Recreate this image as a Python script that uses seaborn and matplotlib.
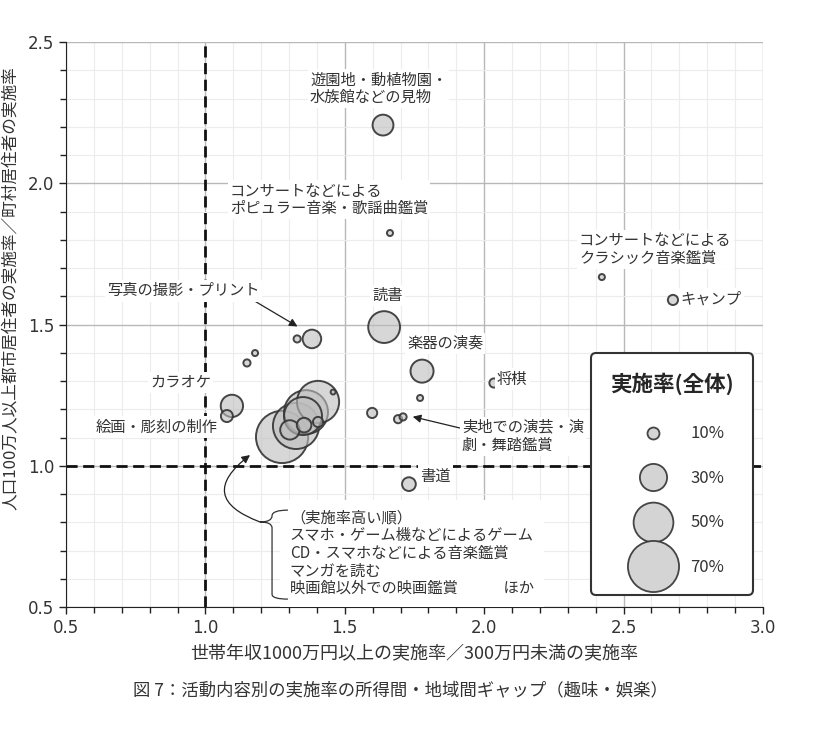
import numpy as np
import pandas as pd
import seaborn as sns
import matplotlib.pyplot as plt
from matplotlib.lines import Line2D
from matplotlib.path import Path
from matplotlib.patches import PathPatch
from matplotlib import font_manager

# データ（所得間ギャップ, 地域間ギャップ, 全体の実施率%）
gap_income = [1.637, 1.662, 2.422, 2.677, 1.641, 1.329, 1.382, 1.777, 2.035,
              1.178, 1.149, 1.095, 1.077, 1.770, 1.598, 1.691, 1.709, 1.730,
              1.275, 1.325, 1.361, 1.404, 1.350, 1.303, 1.354, 1.404, 1.458]
gap_region = [2.206, 1.824, 1.668, 1.587, 1.491, 1.449, 1.449, 1.335, 1.293,
              1.399, 1.364, 1.212, 1.176, 1.240, 1.187, 1.165, 1.173, 0.935,
              1.102, 1.141, 1.190, 1.226, 1.176, 1.127, 1.144, 1.155, 1.261]
rate_total = [21, 4, 4, 8, 37, 5, 18, 24, 7,
              4, 5, 23, 10, 4, 8, 6, 5, 12,
              72, 61, 57, 54, 47, 19, 13, 8, 3]

legend_rates = [10, 30, 50, 70]

df = pd.DataFrame({'x': gap_income, 'y': gap_region, 'rate': rate_total})

# ラベル（テキスト, 位置）
labels = [
    ('遊園地・動植物園・\n水族館などの見物', 1.375, 2.334),
    ('コンサートなどによる\nポピュラー音楽・歌謡曲鑑賞', 1.088, 1.941),
    ('コンサートなどによる\nクラシック音楽鑑賞', 2.340, 1.767),
    ('キャンプ', 2.705, 1.590),
    ('読書', 1.598, 1.604),
    ('楽器の演奏', 1.723, 1.434),
    ('将棋', 2.046, 1.307),
    ('カラオケ', 0.801, 1.296),
    ('絵画・彫刻の制作', 0.608, 1.137),
    ('書道', 1.770, 0.964),
]

# 円の面積（pt^2）
def marker_area(r):
    return 74.6 * (r / 10) ** 1.49

sns.set_style('ticks')
plt.rcParams['font.family'] = ['Noto Sans CJK JP', 'DejaVu Sans']

try:
    font_manager.findfont('Liberation Sans Narrow', fallback_to_default=False)
    tick_font = 'Liberation Sans Narrow'
except Exception:
    tick_font = 'DejaVu Sans'

fig = plt.figure(figsize=(8.13, 7.40), dpi=100)
ax = fig.add_axes([0.0812, 0.1797, 0.8573, 0.7635])

face = (0.74, 0.74, 0.74, 0.6)
edge = (0.2, 0.2, 0.2, 0.9)

sizes = {r: marker_area(r) for r in sorted(set(rate_total))}
sns.scatterplot(data=df, x='x', y='y', size='rate', sizes=sizes,
                legend=False, ax=ax, zorder=3)
pts = ax.collections[0]
pts.set_facecolor(face)
pts.set_edgecolor(edge)
pts.set_linewidth(1.4)

ax.set_xlim(0.5, 3.0)
ax.set_ylim(0.5, 2.5)
ax.set_xticks(np.arange(0.5, 3.01, 0.5))
ax.set_yticks(np.arange(0.5, 2.51, 0.5))
ax.set_xticks(np.arange(0.5, 3.01, 0.1), minor=True)
ax.set_yticks(np.arange(0.5, 2.51, 0.1), minor=True)
ax.set_xticklabels([f'{v:.1f}' for v in np.arange(0.5, 3.01, 0.5)])
ax.set_yticklabels([f'{v:.1f}' for v in np.arange(0.5, 2.51, 0.5)])
for t in ax.get_xticklabels() + ax.get_yticklabels():
    t.set_fontfamily(tick_font)
    t.set_fontsize(12)
    t.set_color('#333333')
ax.grid(which='major', color='#b8b8b8', lw=1.0, zorder=0)
ax.grid(which='minor', color='#ececec', lw=0.8, zorder=0)
ax.set_axisbelow(True)
ax.tick_params(which='both', direction='out', color='#222222', width=1)
ax.tick_params(which='major', length=5)
ax.tick_params(which='minor', length=4)
sns.despine(ax=ax)
ax.spines['left'].set_color('#222222')
ax.spines['bottom'].set_color('#222222')

ax.axvline(1.0, color='#111111', lw=2, ls=(0, (4, 2)), zorder=2)
ax.axhline(1.0, color='#111111', lw=2, ls=(0, (4, 2)), zorder=2)

ax.set_xlabel('世帯年収1000万円以上の実施率／300万円未満の実施率',
              fontsize=13, color='#333333', labelpad=6)
ax.set_ylabel('人口100万人以上都市居住者の実施率／町村居住者の実施率',
              fontsize=12, color='#333333')
ax.yaxis.set_label_coords(-0.067, 0.565)

box = dict(facecolor='white', edgecolor='none', pad=1.5)
for text, tx, ty in labels:
    ax.text(tx, ty, text, fontsize=11, color='#333333', ha='left', va='center',
            linespacing=1.05, bbox=box, zorder=4)

# 矢印付きラベル
ax.annotate('写真の撮影・プリント', xy=(1.339, 1.488), xytext=(0.647, 1.619),
            fontsize=11, color='#333333', va='center', bbox=box, zorder=4,
            arrowprops=dict(arrowstyle='-|>', color='#222222', lw=0.9,
                            mutation_scale=12, shrinkA=0,
                            relpos=(0.95, 0.0)))
ax.annotate('実地での演芸・演\n劇・舞踏鑑賞', xy=(1.734, 1.176), xytext=(1.920, 1.105),
            fontsize=11, color='#333333', va='center', linespacing=1.05,
            bbox=box, zorder=4,
            arrowprops=dict(arrowstyle='-|>', color='#222222', lw=0.9,
                            mutation_scale=12, shrinkA=0,
                            relpos=(0.0, 0.72)))

# まとめ枠
ax.text(1.303, 0.69, '（実施率高い順）\nスマホ・ゲーム機などによるゲーム\nCD・スマホなどによる音楽鑑賞\n'
        'マンガを読む\n映画館以外での映画鑑賞　　　ほか',
        fontsize=11, color='#333333', ha='left', va='center', linespacing=1.05,
        bbox=dict(facecolor='white', edgecolor='none', pad=7), zorder=4)

brace = Path([(1.296, 0.843), (1.239, 0.843), (1.239, 0.823),
              (1.239, 0.801), (1.196, 0.801),
              (1.239, 0.801), (1.239, 0.780),
              (1.239, 0.545), (1.239, 0.528), (1.296, 0.528)],
             [Path.MOVETO, Path.CURVE3, Path.CURVE3,
              Path.CURVE3, Path.CURVE3,
              Path.CURVE3, Path.CURVE3,
              Path.LINETO, Path.CURVE3, Path.CURVE3])
ax.add_patch(PathPatch(brace, facecolor='none', edgecolor='#333333', lw=0.9, zorder=5))
ax.annotate('', xy=(1.160, 1.038), xytext=(1.196, 0.801),
            arrowprops=dict(arrowstyle='-|>', color='#222222', lw=0.9,
                            mutation_scale=12, shrinkA=0, shrinkB=0,
                            connectionstyle='arc3,rad=-0.9'), zorder=5)

# 凡例
handles = [Line2D([], [], marker='o', ls='', markersize=np.sqrt(marker_area(r)),
                  markerfacecolor=(0.83, 0.83, 0.83), markeredgecolor=edge,
                  markeredgewidth=1.3) for r in legend_rates]
leg = ax.legend(handles, [f'{r}%' for r in legend_rates], title='実施率(全体)',
                loc='lower right', bbox_to_anchor=(0.993, 0.0124),
                fontsize=12, title_fontproperties={'weight': 'bold', 'size': 15.5},
                frameon=True, borderpad=1.15, borderaxespad=0.3,
                handlelength=4, handletextpad=0.2,
                labelspacing=1.65, fancybox=True, framealpha=1)
leg.get_frame().set_edgecolor('#333333')
leg.get_frame().set_linewidth(1.5)
leg.get_frame().set_boxstyle('round', pad=0, rounding_size=0.3)
leg.set_zorder(6)
for t in leg.get_texts():
    t.set_color('#333333')
leg._legend_box.sep = 22

fig.text(0.492, 0.067, '図 7：活動内容別の実施率の所得間・地域間ギャップ（趣味・娯楽）',
         fontsize=12.5, color='#333333', ha='center', va='center')

fig.savefig('out.png', dpi=100)
